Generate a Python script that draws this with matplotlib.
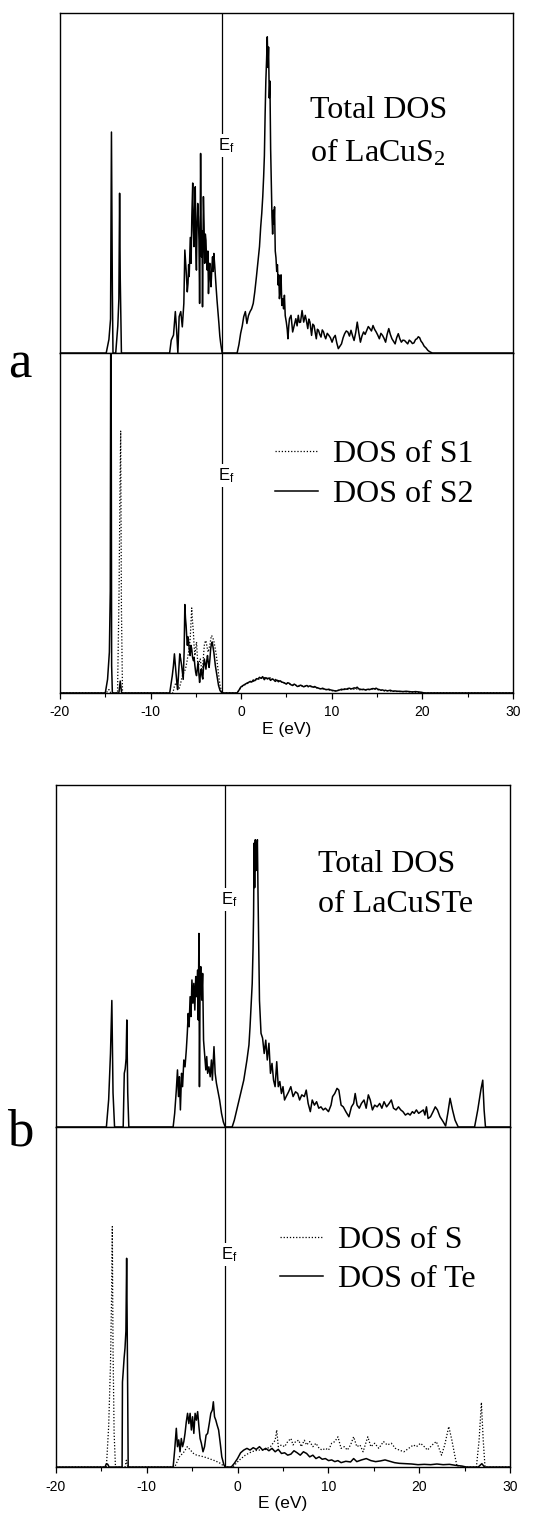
import numpy as np
import matplotlib
matplotlib.use("Agg")
import matplotlib.pyplot as plt
from matplotlib.lines import Line2D

plt.rcParams['font.family'] = 'Liberation Sans'
plt.rcParams['axes.unicode_minus'] = False

# ---- data: (energy in eV, DOS in arbitrary units, 0-100 = axes height) ----
# a) LaCuS2 total DOS
a_tot_e = [-20, -14.9, -14.6, -14.42, -14.32, -14.22, -14.15, -13.85, -13.62, -13.5, -13.42, -13.35, -13.22,
           -7.9, -7.72, -7.47, -7.27, -7.13, -6.99, -6.85, -6.67, -6.5, -6.33, -6.22, -6.08, -5.95, -5.87, -5.8,
           -5.74, -5.62, -5.53, -5.45, -5.35, -5.28, -5.21, -5.14, -5.07, -5.0, -4.94, -4.87, -4.8, -4.73, -4.66,
           -4.59, -4.53, -4.48, -4.43, -4.38, -4.32, -4.27, -4.22, -4.17, -4.1, -4.03, -3.96, -3.89, -3.82, -3.75,
           -3.68, -3.61, -3.54, -3.47, -3.4, -3.33, -3.24, -3.16, -3.09, -3.02, -2.93, -2.85, -2.76, -2.67, -2.56,
           -2.46, -2.36, -2.26, -2.1,
           -0.45, -0.25, -0.06, 0.12, 0.28, 0.46, 0.63, 0.8, 0.98, 1.15, 1.33, 1.5, 1.68, 1.85, 2.02, 2.15, 2.27,
           2.38, 2.48, 2.56, 2.64, 2.72, 2.8, 2.88, 2.95, 3.02, 3.1, 3.17, 3.25, 3.33, 3.4, 3.47, 3.55, 3.62, 3.68,
           3.76, 3.84, 3.92, 4.0, 4.08, 4.15, 4.22, 4.3, 4.4, 4.48, 4.58, 4.68, 4.77, 4.86, 4.98, 5.08, 5.16, 5.25,
           5.33, 5.5, 5.68, 5.85, 6.03, 6.17, 6.3, 6.42, 6.55, 6.72, 6.9, 7.07, 7.2, 7.35, 7.47, 7.59, 7.77, 7.9,
           8.04, 8.17, 8.29, 8.41, 8.53, 8.67, 8.81, 8.95, 9.09, 9.21, 9.33, 9.5, 9.68, 9.85, 10.03, 10.2, 10.38,
           10.55, 10.72, 10.9, 11.07, 11.25, 11.42, 11.6, 11.77, 11.95, 12.12, 12.3, 12.46, 12.64, 12.81, 12.98,
           13.16, 13.33, 13.51, 13.68, 13.86, 14.03, 14.2, 14.38, 14.55, 14.72, 14.9, 15.07, 15.25, 15.42, 15.6,
           15.77, 15.94, 16.11, 16.29, 16.46, 16.64, 16.81, 16.99, 17.16, 17.34, 17.51, 17.68, 17.85, 18.03, 18.2,
           18.38, 18.55, 18.73, 18.9, 19.07, 19.25, 19.4, 19.55, 19.7, 19.85, 20.0, 20.2, 20.4, 20.6, 20.8, 21.1, 30]
a_tot_d = [0, 0, 4, 10, 65, 18, 0, 0, 8, 16, 47, 22, 0,
           0, 3.8, 5.3, 12.2, 6.8, 0, 10.7, 12.2, 7.7, 14.6, 30.3, 24.4, 18, 20.5, 26,
           22.5, 34, 26.4, 40, 50, 36, 31.3, 42, 48.9, 30, 24.4, 38, 44, 40, 33.2,
           14.6, 35, 58.7, 40, 28.3, 36, 13.6, 30, 46, 38, 26.4, 35, 33.2, 27, 24.4,
           30, 17.5, 24, 26.4, 22, 19.5, 25, 28.3, 24, 29.3, 26, 22.5, 19, 15.6, 12,
           8.7, 5, 2.8, 0,
           0, 2.5, 5.8, 8, 10.7, 12.2, 8.7, 11, 12.2, 13, 14.6, 18, 22.4, 27, 31.3, 37, 41.1,
           46, 52, 58, 70, 80, 86, 93, 84, 90, 75, 80, 60, 50, 40, 35, 42, 38, 43,
           30, 28, 24, 26, 20, 23, 16, 18, 23, 14, 16, 13, 17, 11, 9.1, 7, 4.2, 8,
           10.1, 11.1, 6.2, 8.1, 10.1, 8, 11.1, 9, 9.1, 12.5, 9.1, 11.1, 9.5, 7.2, 10, 9.1, 5.2, 8.5,
           8.1, 6, 4.2, 7, 6.7, 5.5, 4.7, 6.8, 6.2, 5, 4.2, 5.8, 5.2, 4.5, 3.2, 4.5, 5.2,
           3, 1.3, 2, 2.7, 4.5, 5.7, 6.5, 6.2, 5, 6.7, 5, 3.7, 6, 9.1, 6,
           3.2, 5, 6.2, 5.5, 6.7, 7.8, 7.2, 6.5, 8.1, 7, 6.2, 5.3, 4.2, 5.8, 5.2,
           4.3, 3.2, 5.5, 7.2, 5.5, 4.2, 3.5, 2.7, 4.5, 5.7, 4.2, 3.2, 3.8, 3.7, 3.2,
           2.7, 3.8, 3.4, 2.8, 3.0, 4.0, 4.2, 4.8, 4.5, 3.5, 3.0, 2.0, 1.5, 0.8, 0.4, 0, 0]

# a) DOS of S1 (dotted)
a_s1_e = [-20, -14.9, -14.6, -14.4, -13.65, -13.48, -13.38, -13.3, -13.22, -13.1,
          -7.54, -7.37, -7.2, -7.02, -6.85, -6.67, -6.5, -6.32, -6.15, -6.0, -5.87, -5.75, -5.63, -5.55, -5.46,
          -5.37, -5.28, -5.2, -5.11, -5.02, -4.93, -4.85, -4.76, -4.64, -4.52, -4.42, -4.31, -4.19, -4.07, -3.98,
          -3.89, -3.77, -3.65, -3.55, -3.44, -3.35, -3.27, -3.18, -3.09, -3.0, -2.92, -2.83, -2.74, -2.63, -2.53,
          -2.43, -2.33, -2.2, -2.12,
          -0.5, -0.3, -0.1, 0.15, 0.4, 0.65, 0.9, 1.15, 1.4, 1.65, 1.9, 2.15, 2.4, 2.65, 2.9, 3.15, 3.4, 3.65,
          3.9, 4.15, 4.4, 4.65, 4.9, 5.15, 5.4, 5.65, 5.9, 6.15, 6.4, 6.65, 6.9, 7.15, 7.4, 7.65, 7.9, 8.15,
          8.4, 8.65, 8.9, 9.15, 9.4, 9.65, 9.9, 10.15, 10.4, 10.65, 10.9, 11.15, 11.4, 11.65, 11.9, 12.15, 12.4,
          12.65, 12.9, 13.15, 13.4, 13.65, 13.9, 14.15, 14.4, 14.65, 14.9, 15.15, 15.4, 15.65, 15.9, 16.15,
          16.4, 16.65, 16.9, 17.4, 17.9, 18.4, 18.9, 19.4, 20.0, 30]
a_s1_d = [0, 0, 1, 0, 0, 30, 60, 77, 25, 0,
          0, 2, 3, 2, 1.2, 3, 5, 6, 7, 9, 11, 13, 16, 20, 25,
          21, 18, 14, 11, 13, 15, 11, 7, 9, 10, 8, 6, 10, 14, 15,
          15.4, 13.5, 12, 13, 14.4, 16, 16.9, 16.5, 15.9, 15, 13.9, 12.5, 11, 8.5, 6,
          4, 2.2, 0.8, 0,
          0, 0.6, 1.3, 2.0, 2.4, 2.7, 3.1, 3.5, 3.4, 3.9, 4.0, 4.4, 4.2, 4.6, 4.3, 4.5, 4.0, 4.2,
          3.8, 3.6, 3.4, 3.0, 2.8, 2.9, 2.5, 2.4, 2.4, 2.1, 2.2, 2.0, 1.9, 2.1, 1.8, 1.9, 1.6, 1.7,
          1.4, 1.3, 1.2, 1.1, 1.0, 0.9, 0.7, 0.6, 0.6, 0.7, 0.8, 0.9, 1.0, 1.1, 1.0, 1.2, 1.1,
          1.3, 1.0, 0.9, 1.0, 0.8, 0.9, 1.0, 1.1, 1.2, 1.0, 0.9, 0.8, 0.7, 0.6, 0.7,
          0.6, 0.5, 0.5, 0.4, 0.4, 0.3, 0.3, 0.2, 0, 0]

# a) DOS of S2 (solid)
a_s2_e = [-20, -15.0, -14.75, -14.55, -14.45, -14.38, -14.3, -14.22, -13.5, -13.35, -13.2,
          -7.89, -7.75, -7.61, -7.48, -7.37, -7.28, -7.2, -7.1, -7.02, -6.9, -6.78, -6.68, -6.57, -6.48, -6.4,
          -6.3, -6.22, -6.15, -6.08, -6.0, -5.94, -5.87, -5.8, -5.72, -5.63, -5.55, -5.46, -5.37, -5.28, -5.2,
          -5.11, -5.02, -4.93, -4.85, -4.76, -4.68, -4.59, -4.5, -4.41, -4.32, -4.24, -4.15, -4.07, -3.98, -3.89,
          -3.8, -3.72, -3.63, -3.54, -3.45, -3.37, -3.28, -3.2, -3.11, -3.02, -2.93, -2.85, -2.76, -2.67, -2.58,
          -2.5, -2.33, -2.12,
          -0.45, -0.25, -0.06, 0.2, 0.46, 0.64, 0.81, 1.0, 1.16, 1.33, 1.5, 1.68, 1.85, 2.02, 2.2, 2.37, 2.55,
          2.72, 2.9, 3.07, 3.24, 3.41, 3.59, 3.76, 3.94, 4.11, 4.29, 4.46, 4.63, 4.81, 4.98, 5.15, 5.33, 5.5,
          5.68, 5.85, 6.03, 6.2, 6.37, 6.55, 6.72, 6.9, 7.07, 7.25, 7.42, 7.6, 7.77, 7.94, 8.12, 8.29, 8.46,
          8.63, 8.81, 8.98, 9.15, 9.33, 9.5, 9.67, 9.85, 10.02, 10.2, 10.37, 10.54, 10.72, 10.9, 11.07, 11.25,
          11.42, 11.6, 11.77, 11.94, 12.12, 12.3, 12.47, 12.64, 12.8, 12.98, 13.15, 13.33, 13.5, 13.68, 13.85,
          14.03, 14.2, 14.38, 14.55, 14.72, 14.9, 15.07, 15.25, 15.42, 15.6, 15.77, 15.94, 16.12, 16.29, 16.46,
          16.64, 16.81, 16.98, 17.16, 17.5, 17.85, 18.2, 18.55, 18.9, 19.25, 19.6, 19.9, 20.2, 30]
a_s2_d = [0, 0, 4, 12, 30, 140, 8, 0, 0, 3.5, 0,
          0, 2.5, 5, 8, 11.5, 8.5, 6, 3, 1, 6, 11.5, 10, 8, 6, 4,
          12, 26, 22, 19.8, 16, 14, 16.5, 15, 12.5, 11, 14, 13, 10.5, 9.5, 10.5,
          8, 6, 5.1, 7, 9, 6, 3.1, 5.5, 7, 5, 4.1, 8, 10, 8.5, 7,
          9.5, 11, 9, 7.5, 10, 13, 14.5, 15, 13.5, 12, 10, 8, 6.5, 5.1, 3.5,
          2.2, 0.7, 0,
          0, 0.8, 1.7, 2.2, 2.6, 2.9, 3.1, 3.4, 3.2, 3.8, 3.6, 4.2, 4.1, 4.6, 4.3, 4.8, 3.9,
          4.5, 4.1, 4.4, 3.7, 4.1, 3.9, 3.4, 3.8, 3.3, 3.6, 3.2, 3.1, 2.9, 2.6, 3.0, 2.8, 2.4,
          2.2, 2.6, 2.3, 1.9, 2.0, 2.3, 2.1, 1.8, 2.0, 2.2, 1.9, 2.1, 1.9, 1.7, 1.9, 1.6, 1.5,
          1.3, 1.2, 1.4, 1.2, 1.0, 1.0, 1.1, 0.9, 0.8, 0.7, 0.6, 0.6, 0.8, 0.9, 1.1, 1.0,
          1.2, 1.1, 1.3, 1.4, 1.2, 1.3, 1.5, 1.4, 1.7, 1.2, 1.1, 1.0, 1.1, 0.9, 1.0,
          1.1, 1.0, 1.2, 1.3, 1.2, 1.4, 1.1, 1.0, 0.8, 0.9, 0.7, 0.8, 0.6, 0.7, 0.8,
          0.6, 0.5, 0.6, 0.5, 0.5, 0.4, 0.5, 0.4, 0.3, 0.4, 0.3, 0.2, 0, 0]

# b) LaCuSTe total DOS
b_tot_e = [-20, -14.45, -14.2, -14.0, -13.85, -13.72, -13.55, -12.6, -12.48, -12.38, -12.28, -12.2, -12.1, -11.98,
           -7.1, -6.93, -6.75, -6.62, -6.51, -6.41, -6.3, -6.17, -6.06, -5.92, -5.79, -5.65, -5.54, -5.44, -5.34,
           -5.23, -5.13, -5.03, -4.92, -4.82, -4.71, -4.61, -4.51, -4.4, -4.33, -4.26, -4.2, -4.13, -4.06, -3.95,
           -3.85, -3.75, -3.64, -3.5, -3.4, -3.3, -3.16, -3.02, -2.88, -2.78, -2.6, -2.47, -2.33, -2.19, -1.98,
           -1.77, -1.57, -1.36,
           -0.6, -0.36, -0.01, 0.34, 0.68, 1.03, 1.25, 1.37, 1.5, 1.61, 1.7, 1.76, 1.82, 1.88, 1.95, 2.02, 2.1,
           2.18, 2.25, 2.32, 2.41, 2.5, 2.58, 2.75, 2.93, 3.1, 3.27, 3.45, 3.62, 3.79, 3.96, 4.13, 4.31, 4.48,
           4.65, 4.83, 5.0, 5.17, 5.35, 5.62, 5.86, 6.11, 6.38, 6.62, 6.83, 7.07, 7.35, 7.56, 7.77, 8.01, 8.22,
           8.46, 8.7, 8.94, 9.18, 9.43, 9.67, 10.01, 10.29, 10.46, 10.7, 10.95, 11.15, 11.4, 11.64, 11.92, 12.26,
           12.54, 12.78, 12.95, 13.16, 13.4, 13.64, 13.92, 14.16, 14.4, 14.61, 14.85, 15.1, 15.37, 15.65, 15.89,
           16.13, 16.41, 16.69, 16.93, 17.17, 17.45, 17.72, 17.97, 18.21, 18.48, 18.76, 19.0, 19.25, 19.45,
           19.69, 19.94, 20.21, 20.46, 20.63, 20.8, 20.98, 21.25, 21.53, 21.77, 22.01, 22.29, 22.63, 22.91,
           23.15, 23.4, 23.67, 23.95, 24.3, 26.1, 26.45, 26.8, 27.0, 27.15, 27.3, 30]
b_tot_d = [0, 0, 8, 21.5, 37, 10, 0, 0, 15.7, 17, 20, 31.3, 10, 0,
           0, 4, 10.8, 16.7, 8.9, 14.7, 5, 15.7, 11.8, 19.6, 17.6, 22.5, 27.4, 33.2, 29.3,
           38.1, 32.3, 43, 36.2, 42, 34.2, 44, 38.1, 45.9, 31.3, 56.6, 11.8, 42, 46.9, 37.1,
           44.9, 25.4, 21.5, 16.7, 20.6, 15.7, 17.6, 14.7, 19.6, 13.7, 23.5, 15.7, 12.8, 10.8, 7.9,
           4, 1.5, 0,
           0, 2, 5.9, 9.8, 13.7, 19.6, 24, 29.3, 36, 42, 52, 62, 83, 70, 84, 75, 80,
           84, 68, 55, 37, 32, 27.4, 26, 21.5, 25.4, 19.6, 24.5, 15.7, 18.6, 13.7, 11.8, 19.1, 11.8,
           13.3, 9.8, 11.8, 7.9, 8.9, 10.3, 11.8, 8.9, 10.3, 9.8, 7.9, 9.4, 8.9, 10.8, 6.9, 4.5, 7.9,
           6.4, 7.4, 5.5, 5.9, 5.0, 5.5, 4.5, 6.4, 8.9, 9.8, 11.3, 10.8, 6.4, 5.9, 4.5, 3.0,
           5.9, 6.9, 9.8, 6.4, 5.5, 6.9, 7.9, 5.5, 9.4, 7.9, 5.0, 6.4, 5.9, 6.9, 5.5,
           7.4, 5.9, 6.9, 7.9, 5.5, 5.0, 5.9, 5.0, 4.5, 3.5, 4.0, 3.5, 4.5, 4.0,
           5.0, 4.0, 4.5, 5.0, 3.5, 5.9, 2.5, 3.0, 4.5, 5.9, 5.0, 3.0, 1.6, 0.3,
           4.0, 8.4, 5.0, 2.0, 0, 0, 5, 11, 13.7, 5, 0, 0]

# b) DOS of S (dotted)
b_s_e = [-20, -14.45, -14.2, -14.0, -13.88, -13.8, -13.72, -13.6, -13.45, -12.4, -12.25, -12.1,
         -6.93, -6.41, -5.89, -5.54, -5.2, -4.85, -4.51, -3.99, -3.47, -2.95, -2.43, -1.91, -1.39,
         -0.53, 0.16, 0.85, 1.54, 2.24, 2.93, 3.62, 4.14, 4.31, 4.48, 4.83, 5.18, 5.52, 5.87, 6.11, 6.39,
         6.73, 7.01, 7.35, 7.6, 7.94, 8.29, 8.63, 8.98, 9.32, 9.67, 10.02, 10.36, 10.71, 11.05, 11.4, 11.75,
         12.09, 12.44, 12.78, 13.13, 13.48, 13.82, 14.34, 14.68, 15.1, 15.55, 16.07, 16.48, 16.93, 17.38,
         17.8, 18.32, 18.84, 19.36, 19.7, 20.15, 20.56, 20.91, 21.43, 21.88, 22.12, 22.46, 22.81, 23.26,
         23.6, 23.95, 24.19, 26.3, 26.6, 26.85, 27.05, 27.25, 30]
b_s_d = [0, 0, 12, 30, 50, 70.7, 35, 10, 0, 0, 2, 0,
         0, 3, 4.5, 6, 5, 4, 3.5, 3.2, 2.8, 2.3, 1.8, 1.1, 0,
         0, 2, 3.5, 4.5, 5, 5, 6, 7.9, 10.9, 6, 6.5, 6, 7.5, 8.4, 6.5, 7.5,
         7.9, 6, 7.9, 6.5, 7.5, 6, 7, 5.5, 5, 5.5, 5, 7, 7.5, 8.9, 5.5, 6,
         5, 6.5, 8.9, 6, 6.5, 4.5, 8.9, 6, 7, 5.5, 7.5, 6.5, 7, 5.5,
         5, 4.5, 5.5, 6.5, 6, 7, 6, 5, 6.5, 7.5, 6, 3.5, 6.5, 11.9,
         7.9, 3, 0, 0, 8, 19, 8, 0, 0]

# b) DOS of Te (solid)
b_te_e = [-20, -14.6, -14.45, -14.3, -14.15, -12.72, -12.68, -12.6, -12.5, -12.4, -12.3, -12.22, -12.17, -12.1, -12.05,
          -7.1, -6.93, -6.75, -6.62, -6.48, -6.34, -6.2, -6.06, -5.92, -5.79, -5.65, -5.51, -5.37, -5.23, -5.09,
          -4.96, -4.82, -4.68, -4.54, -4.4, -4.26, -4.13, -3.99, -3.81, -3.64, -3.47, -3.3, -3.12, -2.95, -2.78,
          -2.67, -2.54, -2.4, -2.26, -2.09, -1.91, -1.74, -1.5, -1.33,
          -0.7, -0.36, -0.01, 0.33, 0.68, 1.03, 1.37, 1.72, 2.06, 2.41, 2.76, 3.1, 3.45, 3.79, 4.14, 4.48, 4.83,
          5.18, 5.52, 5.87, 6.21, 6.56, 6.9, 7.25, 7.6, 7.94, 8.29, 8.63, 8.98, 9.32, 9.67, 10.02, 10.36, 10.71,
          11.05, 11.4, 11.92, 12.44, 12.78, 13.13, 13.65, 14.17, 14.68, 15.2, 15.72, 16.24, 16.76, 17.28, 17.8,
          18.49, 19.18, 19.87, 20.56, 21.26, 21.95, 22.64, 23.33, 24.02, 24.71, 25.2, 26.5, 26.9, 27.2, 30]
b_te_d = [0, 0, 1.0, 0.8, 0, 0, 25, 28, 32, 35, 40, 61.4, 45, 20, 0,
          0, 5, 11.4, 6, 8, 4.5, 8.4, 6, 7.5, 9.9, 13.3, 15.8, 12.8, 15.8, 10.9,
          14.8, 9.9, 15.8, 13.8, 16.3, 11.9, 8.4, 7, 4.5, 6, 9.4, 9.9, 12.8, 15.8, 16.8,
          19.2, 14.8, 13.8, 12.4, 10.9, 7, 3, 0.6, 0,
          0, 1.1, 2.5, 4.2, 5, 5.5, 5, 5.7, 5.2, 6, 5, 5.5, 4.8, 5.5, 4.5, 5.2, 4,
          4.2, 3.5, 3.8, 4.8, 4.2, 3.5, 4.5, 4, 3, 3.5, 2.5, 3, 2.3, 2.5, 1.9, 2.1, 1.6,
          1.9, 1.3, 1.7, 1.5, 2.5, 1.6, 2.1, 2.5, 1.9, 1.6, 1.8, 2.1, 1.7, 1.3, 1.1,
          1.0, 0.9, 0.7, 0.8, 0.7, 0.9, 0.7, 0.8, 0.5, 0.3, 0, 0, 1.0, 0, 0]

ef_a = -2.1
ef_b = -1.35
xticks = [-20, -10, 0, 10, 20, 30]

fig = plt.figure(figsize=(5.55, 15.14), dpi=100)

def make_axes(rect, bottom):
    ax = fig.add_axes(rect)
    ax.set_xlim(-20, 30)
    ax.set_ylim(0, 100)
    ax.set_yticks([])
    for s in ax.spines.values():
        s.set_linewidth(1.0)
    if bottom:
        ax.set_xticks(xticks)
        ax.set_xticks(np.arange(-15, 30, 10), minor=True)
        ax.set_xticklabels([str(t) for t in xticks], fontsize=10)
        ax.tick_params(axis='x', which='major', direction='out', length=4, width=0.9, pad=5)
        ax.tick_params(axis='x', which='minor', direction='out', length=3, width=0.8)
        ax.set_xlabel('E (eV)', fontsize=12.5, labelpad=2)
    else:
        ax.set_xticks([])
    return ax

def fermi(ax, ef, ypos):
    ax.axvline(ef, color='black', lw=0.9, zorder=1)
    ax.text(ef - 0.45, ypos, r'E$\mathregular{_f}$', fontsize=12, ha='left', va='center',
            bbox=dict(facecolor='white', edgecolor='none', pad=1.5), zorder=3)

dotted = (0, (1, 1.5))
serif = {'family': 'Liberation Serif', 'size': 23}

# ---- panel a ----
ax1 = make_axes([0.1081, 0.7668, 0.8162, 0.2246], False)
ax1.plot(a_tot_e, a_tot_d, color='black', lw=1.1)
fermi(ax1, ef_a, 61)
ax1.text(0.552, 0.65, 'Total DOS\nof LaCuS$\\mathregular{_2}$', transform=ax1.transAxes,
         fontdict=serif, ha='left', va='center', linespacing=1.5)

ax2 = make_axes([0.1081, 0.5423, 0.8162, 0.2246], True)
ax2.plot(a_s1_e, a_s1_d, color='black', lw=0.9, ls=dotted)
ax2.plot(a_s2_e, a_s2_d, color='black', lw=1.1)
fermi(ax2, ef_a, 64)
h = [Line2D([], [], color='black', lw=0.9, ls=dotted), Line2D([], [], color='black', lw=1.1)]
ax2.legend(h, ['DOS of S1', 'DOS of S2'], loc='upper left', bbox_to_anchor=(0.475, 0.745),
           frameon=False, prop=serif, handlelength=1.35, handletextpad=0.47,
           labelspacing=0.34, borderpad=0, borderaxespad=0)

fig.text(0.036, 1 - 364 / 1514, 'a', family='Liberation Serif', fontsize=38, ha='center', va='center')

# ---- panel b ----
ax3 = make_axes([0.1009, 0.2556, 0.818, 0.2259], False)
ax3.plot(b_tot_e, b_tot_d, color='black', lw=1.1)
fermi(ax3, ef_b, 66.5)
ax3.text(0.577, 0.708, 'Total DOS\nof LaCuSTe', transform=ax3.transAxes,
         fontdict=serif, ha='left', va='center', linespacing=1.5)

ax4 = make_axes([0.1009, 0.031, 0.818, 0.2246], True)
ax4.plot(b_s_e, b_s_d, color='black', lw=0.9, ls=dotted)
ax4.plot(b_te_e, b_te_d, color='black', lw=1.1)
fermi(ax4, ef_b, 62.6)
ax4.legend(h, ['DOS of S', 'DOS of Te'], loc='upper left', bbox_to_anchor=(0.493, 0.71),
           frameon=False, prop=serif, handlelength=1.35, handletextpad=0.47,
           labelspacing=0.3, borderpad=0, borderaxespad=0)

fig.text(0.036, 1 - 1133 / 1514, 'b', family='Liberation Serif', fontsize=38, ha='center', va='center')

fig.savefig('out.png', dpi=100)
